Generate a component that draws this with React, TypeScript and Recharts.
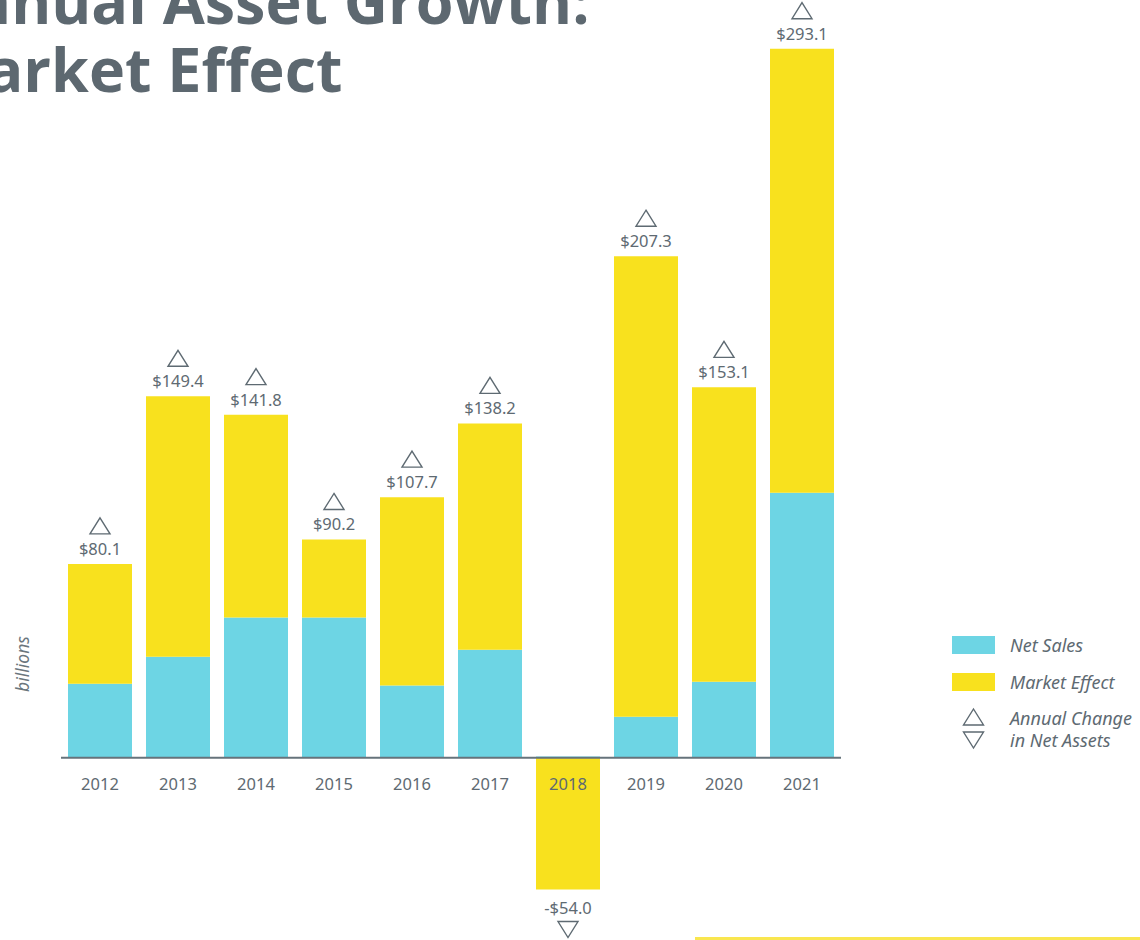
import React from 'react'
import { BarChart, Bar, XAxis, YAxis, ReferenceLine, LabelList } from 'recharts'

const years = ['2012', '2013', '2014', '2015', '2016', '2017', '2018', '2019', '2020', '2021']
const netSales = [30.6, 41.7, 57.9, 57.9, 29.8, 44.6, 0.5, 16.9, 31.4, 109.5]
const marketEffect = [49.5, 107.7, 83.9, 32.3, 77.9, 93.6, -54.5, 190.4, 121.7, 183.6]
const totals = [80.1, 149.4, 141.8, 90.2, 107.7, 138.2, -54.0, 207.3, 153.1, 293.1]

const data = years.map((year, i) => ({
  year,
  netSales: netSales[i],
  marketEffect: marketEffect[i],
  total: totals[i],
}))

const CYAN = '#6dd5e4'
const YELLOW = '#f8e11e'
const GRAY = '#5e6a72'
const FONT = '"Noto Sans", "Open Sans", sans-serif'

function fmt(v: number) {
  return (v < 0 ? '-$' : '$') + Math.abs(v).toFixed(1)
}

function Triangle({ cx, top, down }: { cx: number; top: number; down?: boolean }) {
  const w = 10
  const h = 16
  const d = down
    ? `M${cx - w},${top} L${cx + w},${top} L${cx},${top + h} Z`
    : `M${cx},${top} L${cx + w},${top + h} L${cx - w},${top + h} Z`
  return <path d={d} fill="none" stroke={GRAY} strokeWidth={1.4} />
}

// total above (or below, when negative) the stack, with the up/down marker
function TotalLabel(props: any) {
  const { x, y, width, height, value } = props
  const cx = x + width / 2
  const top = Math.min(y, y + height)
  const bottom = Math.max(y, y + height)
  if (value < 0) {
    return (
      <g>
        <text x={cx} y={bottom + 24} textAnchor="middle" fill={GRAY} fontSize={16.5} fontFamily={FONT}>
          {fmt(value)}
        </text>
        <Triangle cx={cx} top={bottom + 32} down />
      </g>
    )
  }
  return (
    <g>
      <text x={cx} y={top - 9} textAnchor="middle" fill={GRAY} fontSize={16.5} fontFamily={FONT}>
        {fmt(value)}
      </text>
      <Triangle cx={cx} top={top - 46} />
    </g>
  )
}

// year sits just under the zero line, not at the bottom of the plot
function YearLabel(props: any) {
  const { x, y, width, height, value } = props
  const base = Math.max(y, y + height)
  return (
    <text x={x + width / 2} y={base + 32} textAnchor="middle" fill={GRAY} fontSize={16.5} fontFamily={FONT}>
      {value}
    </text>
  )
}

export default function App() {
  return (
    <div style={{ position: 'absolute', left: 0, top: 0, width: 1140, height: 940, overflow: 'hidden', background: '#fff' }}>
      <div
        style={{
          position: 'absolute',
          left: -71,
          top: -33,
          fontFamily: '"Open Sans", sans-serif',
          fontWeight: 700,
          fontSize: 61,
          lineHeight: '68px',
          color: '#5d6870',
          whiteSpace: 'nowrap',
        }}
      >
        Annual Asset Growth:
        <br />
        Market Effect
      </div>

      <BarChart
        width={1140}
        height={940}
        data={data}
        stackOffset="sign"
        margin={{ top: 32, right: 299, bottom: 13, left: 61 }}
        style={{ position: 'absolute', left: 0, top: 0 }}
      >
        <XAxis dataKey="year" hide />
        <YAxis hide domain={[-70, 300]} />
        <Bar dataKey="netSales" stackId="a" fill={CYAN} barSize={64} isAnimationActive={false}>
          <LabelList dataKey="year" content={YearLabel} />
        </Bar>
        <Bar dataKey="marketEffect" stackId="a" fill={YELLOW} barSize={64} isAnimationActive={false}>
          <LabelList dataKey="total" content={TotalLabel} />
        </Bar>
        <ReferenceLine y={0} stroke="#66737b" strokeWidth={2} />
      </BarChart>

      <div
        style={{
          position: 'absolute',
          left: 22,
          top: 664,
          transform: 'translate(-50%, -50%) rotate(-90deg)',
          fontFamily: FONT,
          fontStyle: 'italic',
          fontSize: 17.5,
          color: '#6b767d',
          whiteSpace: 'nowrap',
        }}
      >
        billions
      </div>

      <div style={{ position: 'absolute', left: 952, top: 630, fontFamily: FONT, fontStyle: 'italic', fontSize: 18, color: GRAY, whiteSpace: 'nowrap' }}>
        <div style={{ display: 'flex', alignItems: 'center', height: 30 }}>
          <span style={{ display: 'inline-block', width: 43, height: 18, background: CYAN, marginRight: 15 }} />
          Net Sales
        </div>
        <div style={{ display: 'flex', alignItems: 'center', height: 30, marginTop: 7 }}>
          <span style={{ display: 'inline-block', width: 43, height: 18, background: YELLOW, marginRight: 15 }} />
          Market Effect
        </div>
        <div style={{ display: 'flex', alignItems: 'center', marginTop: 10 }}>
          <svg width={43} height={44} style={{ marginRight: 15 }}>
            <path d="M21.5,2 L31.5,18 L11.5,18 Z" fill="none" stroke={GRAY} strokeWidth={1.4} />
            <path d="M11.5,25 L31.5,25 L21.5,41 Z" fill="none" stroke={GRAY} strokeWidth={1.4} />
          </svg>
          <div style={{ lineHeight: '22px' }}>
            <div>Annual Change</div>
            <div>in Net Assets</div>
          </div>
        </div>
      </div>

      <div style={{ position: 'absolute', left: 695, top: 937, width: 445, height: 3, background: '#f9e64f' }} />
    </div>
  )
}
